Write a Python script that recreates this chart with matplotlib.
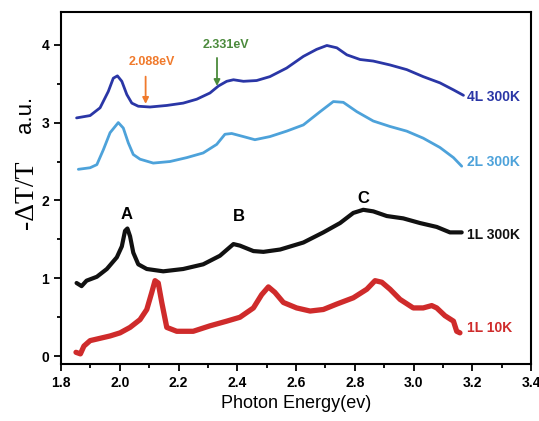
import matplotlib
matplotlib.use("Agg")
import matplotlib.pyplot as plt
from matplotlib.ticker import MultipleLocator

plt.rcParams['font.family'] = ['Liberation Sans', 'DejaVu Sans']

# Photon energy (eV) and -dT/T (offset, a.u.) for each spectrum
e_4l = [1.853, 1.899, 1.933, 1.961, 1.978, 1.992, 2.007, 2.024, 2.041, 2.063, 2.103,
        2.16, 2.216, 2.262, 2.307, 2.336, 2.364, 2.387, 2.421, 2.466, 2.511, 2.568,
        2.625, 2.67, 2.705, 2.739, 2.773, 2.818, 2.863, 2.92, 2.977, 3.033, 3.09,
        3.136, 3.17]
s_4l = [3.06, 3.09, 3.19, 3.40, 3.57, 3.60, 3.53, 3.36, 3.25, 3.21, 3.20,
        3.22, 3.25, 3.30, 3.38, 3.47, 3.53, 3.55, 3.53, 3.54, 3.59, 3.70,
        3.85, 3.94, 3.99, 3.96, 3.87, 3.81, 3.79, 3.74, 3.68, 3.59, 3.51,
        3.42, 3.35]

e_2l = [1.859, 1.899, 1.922, 1.944, 1.967, 1.995, 2.012, 2.029, 2.046, 2.069, 2.114,
        2.171, 2.228, 2.284, 2.33, 2.358, 2.381, 2.421, 2.46, 2.511, 2.568, 2.625,
        2.682, 2.727, 2.761, 2.807, 2.863, 2.92, 2.977, 3.033, 3.09, 3.136, 3.164]
s_2l = [2.40, 2.42, 2.46, 2.65, 2.87, 3.00, 2.93, 2.74, 2.59, 2.53, 2.48,
        2.50, 2.55, 2.61, 2.72, 2.85, 2.86, 2.82, 2.78, 2.82, 2.89, 2.97,
        3.14, 3.27, 3.26, 3.14, 3.02, 2.95, 2.89, 2.80, 2.68, 2.55, 2.44]

e_1l = [1.853, 1.87, 1.887, 1.922, 1.956, 1.99, 2.007, 2.018, 2.026, 2.035, 2.046,
        2.063, 2.092, 2.148, 2.216, 2.284, 2.341, 2.387, 2.409, 2.455, 2.489, 2.546,
        2.625, 2.693, 2.75, 2.795, 2.829, 2.863, 2.909, 2.965, 3.022, 3.079, 3.124,
        3.164]
s_1l = [0.94, 0.90, 0.97, 1.02, 1.12, 1.27, 1.41, 1.61, 1.64, 1.54, 1.33,
        1.18, 1.12, 1.09, 1.12, 1.18, 1.29, 1.44, 1.42, 1.35, 1.34, 1.37,
        1.46, 1.59, 1.71, 1.84, 1.88, 1.86, 1.80, 1.77, 1.71, 1.66, 1.59,
        1.59]

e_10k = [1.851, 1.866, 1.878, 1.899, 1.933, 1.967, 2.001, 2.035, 2.069, 2.092, 2.109,
         2.12, 2.131, 2.143, 2.16, 2.194, 2.25, 2.307, 2.364, 2.409, 2.455, 2.483,
         2.506, 2.528, 2.557, 2.602, 2.648, 2.693, 2.739, 2.795, 2.841, 2.869, 2.892,
         2.92, 2.954, 2.999, 3.033, 3.062, 3.079, 3.107, 3.136, 3.147, 3.158]
s_10k = [0.05, 0.03, 0.13, 0.20, 0.23, 0.26, 0.30, 0.37, 0.47, 0.60, 0.82,
         0.97, 0.94, 0.69, 0.37, 0.32, 0.32, 0.39, 0.45, 0.50, 0.62, 0.79,
         0.89, 0.82, 0.69, 0.62, 0.58, 0.60, 0.67, 0.75, 0.86, 0.97, 0.95,
         0.86, 0.73, 0.62, 0.62, 0.65, 0.62, 0.52, 0.45, 0.32, 0.30]

names = ["4L 300K", "2L 300K", "1L 300K", "1L 10K"]
colors = ["#2a36a6", "#4da2da", "#111111", "#cf2b2b"]
widths = [2.0, 2.0, 3.0, 3.8]
label_y = [3.33, 2.49, 1.56, 0.36]

peak_names = ["A", "B", "C"]
peak_x = [2.024, 2.404, 2.829]
peak_y = [1.82, 1.79, 2.02]

marked_e = [2.088, 2.331]
marked_text = ["2.088eV", "2.331eV"]
marked_colors = ["#f07a2c", "#4b8a3c"]

fig = plt.figure(figsize=(5.39, 4.21), dpi=100)
ax = fig.add_axes([0.1132, 0.1354, 0.8720, 0.8361])

series = [(e_4l, s_4l), (e_2l, s_2l), (e_1l, s_1l), (e_10k, s_10k)]
for (e, s), name, c, lw, ly in zip(series, names, colors, widths, label_y):
    ax.plot(e, s, color=c, lw=lw, solid_joinstyle='round', solid_capstyle='round')
    ax.text(3.182, ly, name, color=c, fontsize=10, fontweight='bold',
            ha='left', va='center')

for n, px, py in zip(peak_names, peak_x, peak_y):
    ax.text(px, py, n, fontsize=12, fontweight='bold', ha='center', va='center')

# Arrows marking the two energies on the 4L spectrum
arrow_tip = [3.24, 3.47]
arrow_tail = [3.59, 3.83]
text_y = [3.78, 4.00]
text_x = [2.11, 2.36]
for xe, t, c, tip, tail, ty, tx in zip(marked_e, marked_text, marked_colors,
                                       arrow_tip, arrow_tail, text_y, text_x):
    ax.annotate("", xy=(xe, tip), xytext=(xe, tail),
                arrowprops=dict(arrowstyle='-|>', color=c, lw=1.3,
                                mutation_scale=9, shrinkA=0, shrinkB=0))
    ax.text(tx, ty, t, color=c, fontsize=9, fontweight='bold',
            ha='center', va='center')

ax.set_xlim(1.8, 3.4)
ax.set_ylim(-0.1, 4.42)
ax.xaxis.set_major_locator(MultipleLocator(0.2))
ax.xaxis.set_minor_locator(MultipleLocator(0.1))
ax.yaxis.set_major_locator(MultipleLocator(1))
ax.yaxis.set_minor_locator(MultipleLocator(0.5))
ax.tick_params(which='both', direction='out', width=1.3, labelsize=10)
ax.tick_params(which='major', length=5)
ax.tick_params(which='minor', length=3)
ax.tick_params(top=False, right=False)
for lab in ax.get_xticklabels() + ax.get_yticklabels():
    lab.set_fontweight('bold')
for sp in ax.spines.values():
    sp.set_linewidth(1.5)

ax.set_xlabel("Photon Energy(ev)", fontsize=13, labelpad=4)

# y-axis title: serif quantity plus sans units
fig.text(0.05, 1 - 195 / 421, "-ΔT/T", rotation=90, fontsize=20,
         family=['Liberation Serif', 'DejaVu Serif'], ha='center', va='center')
fig.text(0.048, 1 - 114 / 421, "a.u.", rotation=90, fontsize=16,
         ha='center', va='center')

fig.savefig("out.png", dpi=100)
